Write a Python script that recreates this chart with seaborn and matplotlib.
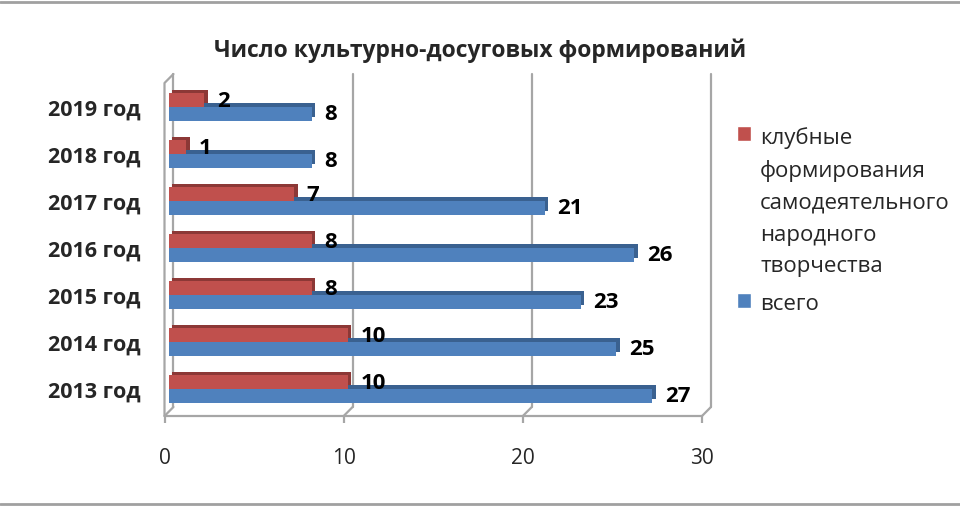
import pandas as pd
import matplotlib
matplotlib.use('Agg')
import matplotlib.pyplot as plt
import matplotlib.patheffects as pe
from matplotlib.transforms import ScaledTranslation
from matplotlib.lines import Line2D
import seaborn as sns

years = ['2019 год', '2018 год', '2017 год', '2016 год', '2015 год', '2014 год', '2013 год']
club = [2, 1, 7, 8, 8, 10, 10]
total = [8, 8, 21, 26, 23, 25, 27]
series = ['клубные формирования самодеятельного народного творчества', 'всего']
legend_labels = ['клубные\nформирования\nсамодеятельного\nнародного\nтворчества', 'всего']
x_ticks = [0, 10, 20, 30]
title = 'Число культурно-досуговых формирований'

colors = ['#C0504D', '#4F81BD']
dark = ['#8C3836', '#3A6190']
grid_col = '#A6A6A6'

df = pd.DataFrame({
    'year': years * 2,
    'value': club + total,
    'series': [series[0]] * len(years) + [series[1]] * len(years),
})

sns.set_style('white')
plt.rcParams['font.family'] = ['Open Sans', 'DejaVu Sans']

fig = plt.figure(figsize=(9.6, 5.1), dpi=100)
ax = fig.add_axes([164.5 / 960, 93 / 510, 537.5 / 960, 342 / 510])

sns.barplot(data=df, x='value', y='year', hue='series', order=years,
            hue_order=series, palette=colors, saturation=1, width=0.58,
            orient='h', ax=ax, legend=True)

ax.set_xlim(0, 30)
ax.set_ylim(6.574, -0.70)
ax.set_xlabel('')
ax.set_ylabel('')
ax.set_xticks(x_ticks)

# bars sit half-way into the 3D box and get a darker extruded side
shift = ScaledTranslation(4 / 100, 0, fig.dpi_scale_trans)
lab_shift = ScaledTranslation(0, -2 / 100, fig.dpi_scale_trans)
for i, cont in enumerate(ax.containers):
    for p in cont:
        p.set_transform(ax.transData + shift)
        p.set_zorder(4 - i)
        p.set_linewidth(0)
        p.set_path_effects([pe.SimplePatchShadow(offset=(2.6, 2.6), shadow_rgbFace=dark[i], alpha=1),
                            pe.Normal()])
    for t in ax.bar_label(cont, padding=12, fontsize=16, fontweight='bold', color='black', zorder=6):
        t.set_transform(t.get_transform() + lab_shift)

for s in ax.spines.values():
    s.set_visible(False)

# 3D frame: back wall, floor, side wall
dx = 0.5   # depth in data units along x
dy = 9 / 342  # depth in axes fraction along y
tr = ax.get_xaxis_transform()
lw = 1.6
for v in x_ticks:
    ax.plot([v + dx, v + dx], [dy, 1], color=grid_col, lw=lw, transform=tr, zorder=1, clip_on=False)
    ax.plot([v, v + dx], [0, dy], color=grid_col, lw=lw, transform=tr, zorder=1, clip_on=False)
ax.plot([0, 0, dx], [0, 1 - dy, 1], color=grid_col, lw=lw, transform=tr, zorder=5, clip_on=False)
ax.plot([0, 30], [0, 0], color=grid_col, lw=lw, transform=tr, zorder=1, clip_on=False)

ax.tick_params(axis='x', bottom=True, length=5, width=lw, color=grid_col, pad=17, labelsize=15)
ax.tick_params(axis='y', left=False, length=0, pad=17)
for lab in ax.get_yticklabels():
    lab.set_fontweight('bold')
    lab.set_fontsize(15.5)

handles, _ = ax.get_legend_handles_labels()
ax.get_legend().remove()
leg = fig.legend(handles, legend_labels, loc='upper left', bbox_to_anchor=(728 / 960, 1 - 118 / 510),
                 frameon=False, fontsize=16, handlelength=0.65, handleheight=0.65,
                 handletextpad=0.4, labelspacing=0.75, borderaxespad=0)
for t in leg.get_texts():
    t.set_linespacing(1.67)
# keep the marker next to the first line of a wrapped label
for col in leg._legend_handle_box.get_children():
    for row in col.get_children():
        row.align = 'top'

fig.text(480 / 960, 1 - 51 / 510, title, ha='center', va='center', fontsize=16.5, fontweight='bold')

# outer chart frame
for yy in [1 - 3 / 510, 1 - 505 / 510]:
    fig.add_artist(Line2D([0, 1], [yy, yy], color='#A0A0A0', lw=2))

fig.savefig('out.png', dpi=100)
